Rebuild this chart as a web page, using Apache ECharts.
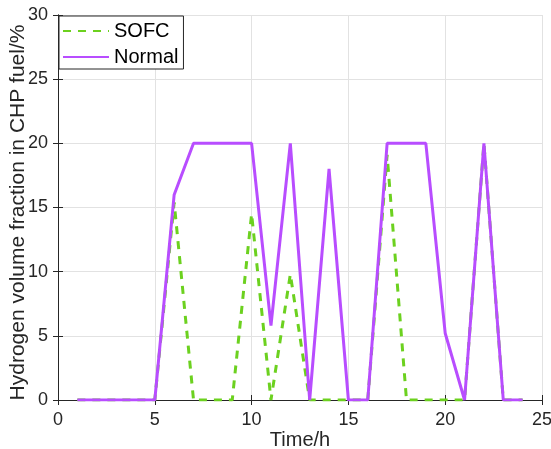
<!DOCTYPE html>
<html>
<head>
<meta charset="utf-8">
<script src="https://cdn.jsdelivr.net/npm/echarts@6/dist/echarts.min.js"></script>
<style>
  html, body { margin: 0; padding: 0; background: #fff; }
  #chart { width: 551px; height: 449px; }
</style>
</head>
<body>
<div id="chart"></div>
<script>
// hours of the day
var hours = [1, 2, 3, 4, 5, 6, 7, 8, 9, 10, 11, 12, 13, 14, 15, 16, 17, 18, 19, 20, 21, 22, 23, 24];
// hydrogen volume fraction, %
var sofc = [0, 0, 0, 0, 0, 15.4, 0, 0, 0, 14.5, 0, 9.8, 0, 0, 0, 0, 19.1, 0, 0, 0, 0, 20, 0, 0];
var normal = [0, 0, 0, 0, 0, 16, 20, 20, 20, 20, 5.8, 20, 0, 18, 0, 0, 20, 20, 20, 5.2, 0, 20, 0, 0];
var xTicks = [0, 5, 10, 15, 20, 25];
var yTicks = [0, 5, 10, 15, 20, 25, 30];

var chart = echarts.init(document.getElementById('chart'));
var font = 'Liberation Sans, Arial, sans-serif';

function pairs(ys) {
	var out = [];
	for (var i = 0; i < hours.length; i++) {
		out.push([hours[i], ys[i]]);
	}
	return out;
}

var option = {
	animation: false,
	textStyle: { fontFamily: font },
	grid: { left: 58, right: 9, top: 15, bottom: 49, show: false, outerBoundsMode: 'none' },
	legend: {
		orient: 'vertical',
		left: 59,
		top: 16,
		padding: [5, 5, 2, 3],
		itemGap: 6,
		itemWidth: 46,
		itemHeight: 22,
		backgroundColor: '#fff',
		borderColor: '#262626',
		borderWidth: 1,
		itemStyle: { opacity: 0 },
		textStyle: { fontSize: 20, color: '#000', fontFamily: font },
		data: ['SOFC', 'Normal']
	},
	xAxis: [
		{
			type: 'value',
			min: xTicks[0],
			max: xTicks[xTicks.length - 1],
			interval: 5,
			name: 'Time/h',
			nameLocation: 'middle',
			nameGap: 30,
			nameMoveOverlap: false,
			nameTextStyle: { fontSize: 20, color: '#262626' },
			axisLine: { lineStyle: { color: '#262626', width: 1 } },
			axisTick: { inside: true, length: 5, lineStyle: { color: '#262626' } },
			axisLabel: { fontSize: 18, color: '#262626', margin: 11 },
			splitLine: { show: true, lineStyle: { color: '#e2e2e2', width: 1 } }
		},
		{
			type: 'value',
			position: 'top',
			min: xTicks[0],
			max: xTicks[xTicks.length - 1],
			interval: 5,
			axisLine: { lineStyle: { color: '#262626', width: 1 } },
			axisTick: { inside: true, length: 5, lineStyle: { color: '#262626' } },
			axisLabel: { show: false },
			splitLine: { show: false }
		}
	],
	yAxis: [
		{
			type: 'value',
			min: yTicks[0],
			max: yTicks[yTicks.length - 1],
			interval: 5,
			name: 'Hydrogen volume fraction in CHP fuel/%',
			nameLocation: 'middle',
			nameGap: 29,
			nameMoveOverlap: false,
			nameTextStyle: { fontSize: 21, color: '#262626', padding: [0, 10, 0, 0] },
			axisLine: { show: true, lineStyle: { color: '#262626', width: 1 } },
			axisTick: { show: true, inside: true, length: 5, lineStyle: { color: '#262626' } },
			axisLabel: { fontSize: 18, color: '#262626', margin: 10 },
			splitLine: { show: true, lineStyle: { color: '#e2e2e2', width: 1 } }
		},
		{
			type: 'value',
			position: 'right',
			min: yTicks[0],
			max: yTicks[yTicks.length - 1],
			interval: 5,
			axisLine: { show: true, lineStyle: { color: '#262626', width: 1 } },
			axisTick: { show: true, inside: true, length: 5, lineStyle: { color: '#262626' } },
			axisLabel: { show: false },
			splitLine: { show: false }
		}
	],
	series: [
		{
			name: 'SOFC',
			type: 'line',
			data: pairs(sofc),
			symbol: 'none',
			color: '#6cd11f',
			lineStyle: { width: 3, type: [8, 7], color: '#6cd11f' }
		},
		{
			name: 'Normal',
			type: 'line',
			data: pairs(normal),
			symbol: 'none',
			color: '#b84dff',
			lineStyle: { width: 3, type: 'solid', color: '#b84dff' }
		}
	]
};
option && chart.setOption(option);
</script>
</body>
</html>
